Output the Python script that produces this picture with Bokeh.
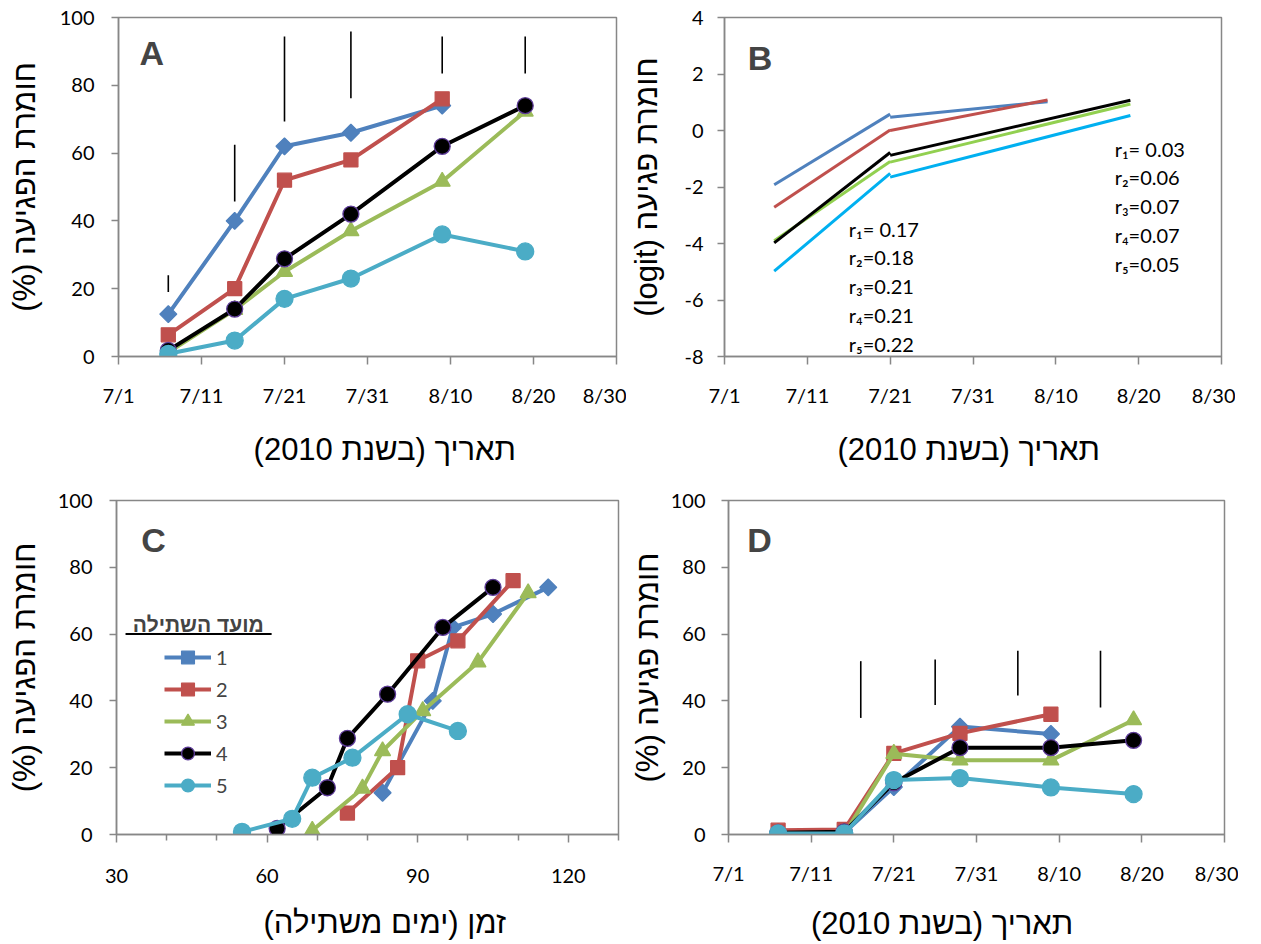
import math
import pandas as pd
from bokeh.plotting import figure
from bokeh.layouts import column, row
from bokeh.models import Range1d, FixedTicker, Label, Legend, LegendItem, BoxAnnotation
from bokeh.embed import file_html
from bokeh.resources import INLINE
from bokeh.core.properties import value

YEAR = 2010


def to_day(md):
    m, d = (int(v) for v in md.split("/"))
    return (pd.Timestamp(YEAR, m, d) - pd.Timestamp(YEAR, 7, 1)).days


# ---------------- data ----------------
series_labels = ["1", "2", "3", "4", "5"]
sample_dates = ["7/7", "7/15", "7/21", "7/29", "8/9", "8/19"]
x_tick_dates = ["7/1", "7/11", "7/21", "7/31", "8/10", "8/20", "8/30"]

# panel A (and C): disease severity (%)
sev_1 = [12.5, 40.0, 62.0, 66.0, 74.0]
sev_2 = [6.4, 20.0, 52.0, 58.0, 76.0]
sev_3 = [1.2, 13.8, 25.0, 37.0, 51.6, 72.3]
sev_4 = [1.8, 14.0, 28.8, 42.0, 62.0, 74.0]
sev_5 = [0.8, 4.7, 17.0, 23.0, 36.0, 31.0]

# panel A: LSD bars
lsd_a_dates = ["7/7", "7/15", "7/21", "7/29", "8/9", "8/19"]
lsd_a_low = [19.0, 45.7, 69.3, 76.2, 83.5, 83.5]
lsd_a_high = [24.0, 62.5, 94.4, 95.9, 94.4, 94.4]

# panel B: logit fits (early and late segments)
logit_early_start = [-1.92, -2.72, -3.90, -3.98, -4.98]
logit_early_end = [0.58, 0.02, -1.10, -0.78, -1.52]
logit_late_start = [0.47, 0.00, -1.12, -0.88, -1.65]
logit_late_end = [1.02, 1.08, 0.94, 1.07, 0.53]
logit_start_date = "7/7"
logit_mid_date = "7/21"
logit_end_dates = ["8/9", "8/9", "8/19", "8/19", "8/19"]
rate_early = ["0.17", "0.18", "0.21", "0.21", "0.22"]
rate_late = ["0.03", "0.06", "0.07", "0.07", "0.05"]
b_y_ticks = [-8, -6, -4, -2, 0, 2, 4]

# panel C: days from planting
days_1 = [83, 93, 97, 105, 116]
days_2 = [76, 86, 90, 98, 109]
days_3 = [69, 79, 83, 91, 102, 112]
days_4 = [62, 72, 76, 84, 95, 105]
days_5 = [55, 65, 69, 77, 88, 98]
c_ticks = [30, 60, 90, 120]
c_minor_ticks = [40, 50, 70, 80, 100, 110, 130]

# panel D: severity (%)
sevD_1 = [0.8, 0.5, 14.2, 32.3, 30.1]
sevD_2 = [1.3, 1.5, 24.3, 30.3, 36.0]
sevD_3 = [0.0, 0.0, 24.2, 22.2, 22.2, 34.3]
sevD_4 = [0.5, 0.8, 15.5, 26.0, 26.0, 28.2]
sevD_5 = [0.3, 0.3, 16.3, 16.9, 14.1, 12.1]
lsd_d_dates = ["7/17", "7/26", "8/5", "8/15"]
lsd_d_low = [34.9, 38.8, 41.6, 38.0]
lsd_d_high = [51.9, 52.4, 55.0, 55.0]

# ---------------- styling ----------------
COLORS = ["#4F81BD", "#C0504D", "#9BBB59", "#000000", "#4BACC6"]
COLORS_B = ["#4F81BD", "#C0504D", "#92D050", "#000000", "#00B0F0"]
MARKERS = [("square", 12, math.pi / 4), ("square", 14, 0.0), ("triangle", 16, 0.0),
           ("circle", 16, 0.0), ("circle", 17, 0.0)]
MARKER_LINE = [None, None, None, "#5E3C99", None]
GRAY = "#878787"
TICK_FONT = "Lato"
LABEL_FONT = "Liberation Sans"
LABEL_SIZE = "31px"


def rtl(s, pad_right=0, pad_left=0):
    # right-to-left embedding; non-breaking spaces nudge the centred title sideways
    return "\u202b" + "\u00a0" * pad_right + s + "\u00a0" * pad_left + "\u202c"


def make_fig(width, height, xr, yr, bl, br, bt, bb, ylab_standoff, ytick_standoff, xlab_standoff,
             xtick_standoff=18):
    p = figure(width=width, height=height, x_range=Range1d(*xr), y_range=Range1d(*yr),
               output_backend="svg", toolbar_location=None,
               min_border_left=bl, min_border_right=br, min_border_top=bt, min_border_bottom=bb)
    p.xgrid.visible = False
    p.ygrid.visible = False
    p.outline_line_color = GRAY
    p.outline_line_width = 1.5
    p.background_fill_color = "white"
    p.border_fill_color = "white"
    for ax in (p.xaxis[0], p.yaxis[0]):
        ax.axis_line_color = GRAY
        ax.axis_line_width = 1.5
        ax.major_tick_line_color = GRAY
        ax.major_tick_line_width = 1.5
        ax.major_tick_in = 0
        ax.minor_tick_line_color = None
        ax.major_label_text_font = TICK_FONT
        ax.major_label_text_font_size = "20px"
        ax.major_label_text_color = "#000000"
        ax.axis_label_text_font = LABEL_FONT
        ax.axis_label_text_font_size = LABEL_SIZE
        ax.axis_label_text_font_style = "normal"
        ax.axis_label_text_color = "#000000"
    p.xaxis[0].major_tick_out = 8
    p.xaxis[0].major_label_standoff = xtick_standoff
    p.xaxis[0].axis_label_standoff = xlab_standoff
    p.yaxis[0].major_tick_out = 7
    p.yaxis[0].major_label_standoff = ytick_standoff
    p.yaxis[0].axis_label_standoff = ylab_standoff
    return p


def date_axis(p):
    ticks = [to_day(s) for s in x_tick_dates]
    p.xaxis[0].ticker = FixedTicker(ticks=ticks)
    p.xaxis[0].major_label_overrides = {t: s for t, s in zip(ticks, x_tick_dates)}


def panel_letter(p, text, x, y):
    p.add_layout(Label(x=x, y=y, text=text, text_font=LABEL_FONT, text_font_size="34px",
                       text_font_style="bold", text_align="center", text_baseline="middle"))


def draw_series(p, xs, ys, i):
    marker, size, angle = MARKERS[i]
    rl = p.line(xs, ys, line_color=COLORS[i], line_width=4)
    rs = p.scatter(xs, ys, marker=marker, size=size, angle=angle, fill_color=COLORS[i],
                   line_color=MARKER_LINE[i] or COLORS[i], line_width=1.3)
    return rl, rs


def lsd_bars(p, dates, lo, hi):
    xs = [to_day(s) for s in dates]
    p.segment(x0=xs, y0=lo, x1=xs, y1=hi, line_color="#000000", line_width=1.6)


sev_all = [sev_1, sev_2, sev_3, sev_4, sev_5]
sevD_all = [sevD_1, sevD_2, sevD_3, sevD_4, sevD_5]
days_all = [days_1, days_2, days_3, days_4, days_5]
dates_x = [to_day(s) for s in sample_dates]

Y_LABEL_A = rtl("חומרת הפגיעה (%)")
Y_LABEL_B = rtl("חומרת פגיעה (logit)")
Y_LABEL_D = rtl("חומרת פגיעה (%)")
X_TEXT_DATE = "תאריך (בשנת 2010)"
X_TEXT_C = "זמן (ימים משתילה)"

# ---------------- panel A ----------------
pA = make_fig(626, 469, (0, 60), (0, 100), 118, 10, 17, 113, 15, 17, 22)
date_axis(pA)
pA.yaxis[0].ticker = FixedTicker(ticks=[0, 20, 40, 60, 80, 100])
pA.yaxis[0].axis_label = Y_LABEL_A
pA.xaxis[0].axis_label = rtl(X_TEXT_DATE, pad_left=4)
lsd_bars(pA, lsd_a_dates, lsd_a_low, lsd_a_high)
for i, ys in enumerate(sev_all):
    draw_series(pA, dates_x[:len(ys)], ys, i)
panel_letter(pA, "A", 4.0, 89.4)

# ---------------- panel B ----------------
pB = make_fig(609, 469, (0, 60), (-8, 4), 97, 14, 17, 113, 17, 14, 22)
date_axis(pB)
pB.yaxis[0].ticker = FixedTicker(ticks=b_y_ticks)
pB.yaxis[0].major_label_overrides = {t: str(t) for t in b_y_ticks}
pB.yaxis[0].axis_label = Y_LABEL_B
pB.xaxis[0].axis_label = rtl(X_TEXT_DATE, pad_right=1)
x_start = to_day(logit_start_date)
x_mid = to_day(logit_mid_date)
for i in range(5):
    x_end = to_day(logit_end_dates[i])
    pB.line([x_start, x_mid], [logit_early_start[i], logit_early_end[i]],
            line_color=COLORS_B[i], line_width=3)
    pB.line([x_mid, x_end], [logit_late_start[i], logit_late_end[i]],
            line_color=COLORS_B[i], line_width=3)
subs = ["\u2081", "\u2082", "\u2083", "\u2084", "\u2085"]
txt_early = ["r" + subs[i] + ("= " if i == 0 else "=") + rate_early[i] for i in range(5)]
txt_late = ["r" + subs[i] + ("= " if i == 0 else "=") + rate_late[i] for i in range(5)]
pB.text(x=[15.0] * 5, y=[-3.47 - 1.02 * k for k in range(5)], text=txt_early,
        text_font=value(TICK_FONT), text_font_size="20px", text_align="left",
        text_baseline="middle", text_color="#000000")
pB.text(x=[47.1] * 5, y=[-0.64 - 1.02 * k for k in range(5)], text=txt_late,
        text_font=value(TICK_FONT), text_font_size="20px", text_align="left",
        text_baseline="middle", text_color="#000000")
panel_letter(pB, "B", 4.3, 2.58)

# ---------------- panel C ----------------
pC = make_fig(626, 474, (30, 130), (0, 100), 116, 8, 31, 103, 13, 17, 19, xtick_standoff=26)
pC.xaxis[0].ticker = FixedTicker(ticks=c_ticks, minor_ticks=c_minor_ticks)
pC.xaxis[0].minor_tick_line_color = GRAY
pC.xaxis[0].minor_tick_line_width = 1.5
pC.xaxis[0].minor_tick_in = 0
pC.xaxis[0].minor_tick_out = 6
pC.yaxis[0].ticker = FixedTicker(ticks=[0, 20, 40, 60, 80, 100])
pC.yaxis[0].axis_label = Y_LABEL_A
pC.xaxis[0].axis_label = rtl(X_TEXT_C, pad_left=4)
items = []
for i, ys in enumerate(sev_all):
    rl, rs = draw_series(pC, days_all[i], ys, i)
    items.append(LegendItem(label=series_labels[i], renderers=[rl, rs]))
legend = Legend(items=items, location=(48, 33), padding=0, margin=0, spacing=0,
                glyph_width=47, glyph_height=32, label_height=32, label_standoff=5,
                label_text_font=TICK_FONT, label_text_font_size="20px",
                border_line_color=None, background_fill_alpha=0)
pC.add_layout(legend, "center")
pC.add_layout(Label(x=46.3, y=62.9, text="מועד השתילה", text_font=LABEL_FONT,
                    text_font_size="21px", text_font_style="bold", text_align="center",
                    text_baseline="middle"))
pC.add_layout(BoxAnnotation(left=31.8, right=60.9, bottom=59.7, top=60.3,
                            fill_color="#000000", fill_alpha=1.0, line_color=None))
panel_letter(pC, "C", 37.4, 88.2)

# ---------------- panel D ----------------
pD = make_fig(612, 474, (0, 60), (0, 100), 102, 14, 29, 105, 3, 16, 18)
date_axis(pD)
pD.yaxis[0].ticker = FixedTicker(ticks=[0, 20, 40, 60, 80, 100])
pD.yaxis[0].axis_label = Y_LABEL_D
pD.xaxis[0].axis_label = rtl(X_TEXT_DATE, pad_right=8)
lsd_bars(pD, lsd_d_dates, lsd_d_low, lsd_d_high)
for i, ys in enumerate(sevD_all):
    draw_series(pD, dates_x[:len(ys)], ys, i)
panel_letter(pD, "D", 3.75, 88.2)

layout = column(row(pA, pB), row(pC, pD))
open("out.html", "w").write(file_html(layout, INLINE))
